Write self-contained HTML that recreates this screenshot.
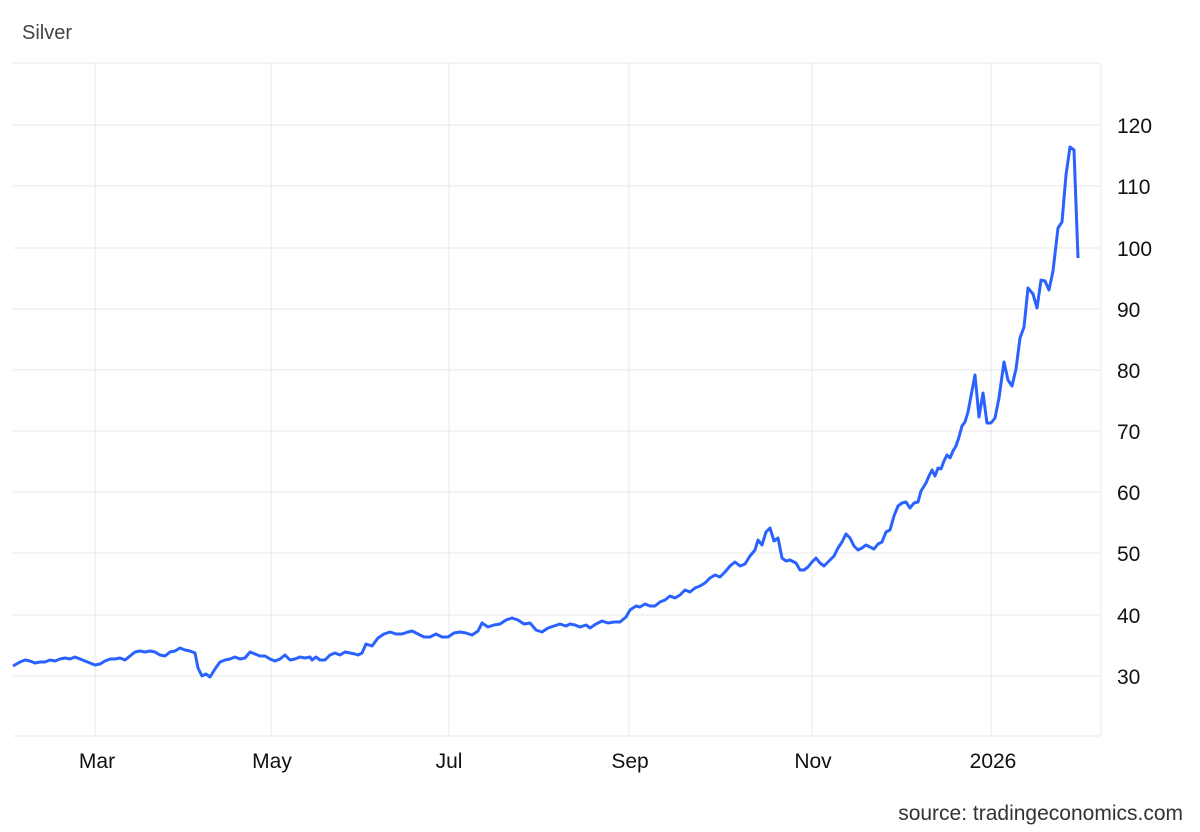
<!DOCTYPE html>
<html><head><meta charset="utf-8"><style>
html,body{margin:0;padding:0;background:#fff;}
svg{display:block;font-family:"Liberation Sans",Arial,sans-serif;}
</style></head><body>
<svg width="1200" height="832" viewBox="0 0 1200 832">
<text x="22" y="39" font-size="20" fill="#444">Silver</text>
<g stroke="#ececec" stroke-width="1.2">
<line x1="13" y1="63" x2="1100" y2="63"/>
<line x1="13" y1="125" x2="1100" y2="125"/>
<line x1="13" y1="186" x2="1100" y2="186"/>
<line x1="13" y1="248" x2="1100" y2="248"/>
<line x1="13" y1="309" x2="1100" y2="309"/>
<line x1="13" y1="370" x2="1100" y2="370"/>
<line x1="13" y1="431" x2="1100" y2="431"/>
<line x1="13" y1="492" x2="1100" y2="492"/>
<line x1="13" y1="553" x2="1100" y2="553"/>
<line x1="13" y1="615" x2="1100" y2="615"/>
<line x1="13" y1="676" x2="1100" y2="676"/>
<line x1="13" y1="736" x2="1100" y2="736"/>
<line x1="95" y1="63" x2="95" y2="736"/>
<line x1="271" y1="63" x2="271" y2="736"/>
<line x1="449" y1="63" x2="449" y2="736"/>
<line x1="629" y1="63" x2="629" y2="736"/>
<line x1="812" y1="63" x2="812" y2="736"/>
<line x1="991" y1="63" x2="991" y2="736"/>
<line x1="1101" y1="63" x2="1101" y2="736"/>
</g>
<g font-size="21" fill="#111">
<text x="1117" y="133">120</text>
<text x="1117" y="194">110</text>
<text x="1117" y="256">100</text>
<text x="1117" y="317">90</text>
<text x="1117" y="378">80</text>
<text x="1117" y="439">70</text>
<text x="1117" y="500">60</text>
<text x="1117" y="561">50</text>
<text x="1117" y="623">40</text>
<text x="1117" y="684">30</text>
<g text-anchor="middle">
<text x="97" y="768">Mar</text>
<text x="272" y="768">May</text>
<text x="449" y="768">Jul</text>
<text x="630" y="768">Sep</text>
<text x="813" y="768">Nov</text>
<text x="993" y="768">2026</text>
</g>
<text x="1183" y="820" text-anchor="end" fill="#333">source: tradingeconomics.com</text>
</g>
<polyline fill="none" stroke="#2962ff" stroke-width="3" stroke-linejoin="round" points="13,666 20,662 25,660 30,661 35,663 40,662 45,662 50,660 55,661 60,659 65,658 70,659 75,657 80,659 85,661 90,663 95,665 100,664 105,661 110,659 115,659 120,658 125,660 130,656 135,652 140,651 145,652 150,651 155,652 160,655 165,656 170,652 175,651 180,648 185,650 190,651 195,653 198,668 202,676 206,674 210,677 215,669 220,662 225,660 230,659 235,657 240,659 245,658 250,652 255,654 260,656 265,656 270,659 275,661 280,659 285,655 290,660 295,659 300,657 305,658 310,657 312,660 316,657 320,660 325,660 330,655 335,653 340,655 345,652 350,653 355,654 358,655 362,653 366,644 372,646 378,638 384,634 390,632 396,634 402,634 408,632 412,631 418,634 424,637 430,637 436,634 442,637 448,637 454,633 460,632 466,633 472,635 478,631 482,623 488,627 494,625 500,624 506,620 512,618 518,620 524,624 530,623 536,630 542,632 548,628 554,626 560,624 566,626 570,624 575,625 580,627 586,625 590,628 596,624 602,621 608,623 614,622 620,622 626,617 630,610 636,606 640,607 645,604 650,606 655,606 660,602 665,600 670,596 675,598 680,595 685,590 690,592 695,588 700,586 705,583 710,578 715,575 720,577 725,572 730,566 735,562 740,566 745,564 750,556 755,550 758,540 762,545 766,532 770,528 774,541 778,538 782,558 786,561 790,560 796,563 800,570 804,570 808,567 812,562 816,558 820,563 824,566 830,560 834,556 838,548 842,542 846,534 850,538 854,546 858,550 862,548 866,545 870,547 874,549 878,544 882,542 886,532 890,530 894,516 898,506 902,503 906,502 910,508 914,503 918,502 921,491 926,483 929,476 932,470 935,476 938,468 941,469 944,461 947,455 950,458 953,451 956,446 959,437 962,426 965,422 968,412 971,396 975,375 979,417 983,393 987,423 991,423 995,418 999,398 1004,362 1008,380 1012,386 1016,369 1020,338 1024,327 1028,288 1033,294 1037,308 1041,280 1045,281 1049,290 1053,271 1058,228 1062,222 1066,175 1070,147 1074,150 1078,258"/>
</svg>
</body></html>
